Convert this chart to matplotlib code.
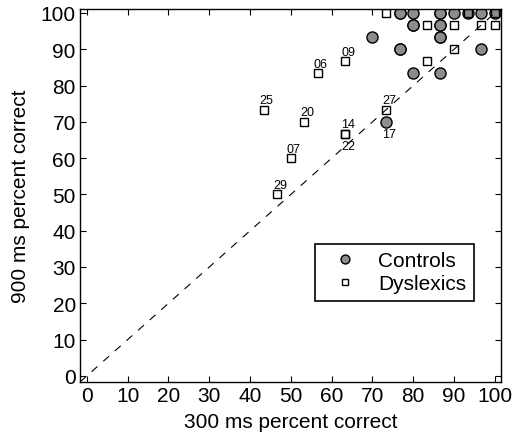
import numpy as np
import matplotlib
matplotlib.use('Agg')
import matplotlib.pyplot as plt

plt.rcParams['font.family'] = ['Liberation Sans', 'DejaVu Sans']

# 300 ms / 900 ms percent correct (30 trials each)
ctrl_300 = [70, 73.33, 76.67, 76.67, 80, 86.67, 86.67, 90, 93.33, 96.67, 100,
            80, 80, 86.67, 86.67, 86.67, 86.67, 76.67, 76.67, 96.67, 80, 86.67]
ctrl_900 = [93.33, 70, 100, 100, 100, 100, 100, 100, 100, 100, 100,
            96.67, 96.67, 96.67, 96.67, 93.33, 93.33, 90, 90, 90, 83.33, 83.33]
ctrl_labels = ['', '17'] + [''] * 20

dys_300 = [43.33, 53.33, 63.33, 63.33, 50, 46.67, 56.67, 63.33, 73.33,
           73.33, 93.33, 100, 83.33, 90, 96.67, 100, 90, 83.33]
dys_900 = [73.33, 70, 66.67, 66.67, 60, 50, 83.33, 86.67, 73.33,
           100, 100, 100, 96.67, 96.67, 96.67, 96.67, 90, 86.67]
dys_labels = ['25', '20', '14', '22', '07', '29', '06', '09', '27'] + [''] * 9

below = ['22', '17']  # labels drawn under the marker

fig = plt.figure(figsize=(5.14, 4.35), dpi=100)
ax = fig.add_axes([0.1556, 0.1195, 0.819, 0.8575])

ax.plot(ctrl_300, ctrl_900, 'o', ms=8, mfc='#8c8c8c', mec='black', mew=1.0,
        label='Controls', zorder=2)
ax.plot(dys_300, dys_900, 's', ms=6, mfc='none', mec='black', mew=1.0,
        label='Dyslexics', zorder=3)
ax.axline((0, 0), slope=1, color='black', lw=0.8, ls=(0, (7, 7)), zorder=4)

for xs, ys, labs in [(ctrl_300, ctrl_900, ctrl_labels), (dys_300, dys_900, dys_labels)]:
    for x, y, t in zip(xs, ys, labs):
        if not t:
            continue
        if t in below:
            ax.annotate(t, (x, y), xytext=(-3, -4.5), textcoords='offset points',
                        ha='left', va='top', fontsize=9)
        else:
            ax.annotate(t, (x, y), xytext=(-3, 2.5), textcoords='offset points',
                        ha='left', va='bottom', fontsize=9)

ax.set_xlim(-1.7, 101.5)
ax.set_ylim(-1.7, 101.1)
ax.set_xticks(np.arange(0, 101, 10))
ax.set_yticks(np.arange(0, 101, 10))
ax.tick_params(direction='in', length=4.5, width=0.8, top=True, right=True,
               labelsize=15, pad=3)
for s in ax.spines.values():
    s.set_linewidth(1.0)

ax.set_xlabel('300 ms percent correct', fontsize=15, labelpad=5)
ax.set_ylabel('900 ms percent correct', fontsize=15, labelpad=8)

leg = ax.legend(loc='lower right', bbox_to_anchor=(0.935, 0.218), fontsize=15,
                fancybox=False, edgecolor='black', framealpha=1,
                handletextpad=0.5, borderpad=0.35, labelspacing=0.2,
                handlelength=2.2, markerscale=0.8, borderaxespad=0)
leg.get_frame().set_linewidth(1.2)

fig.savefig('out.png', dpi=100)
